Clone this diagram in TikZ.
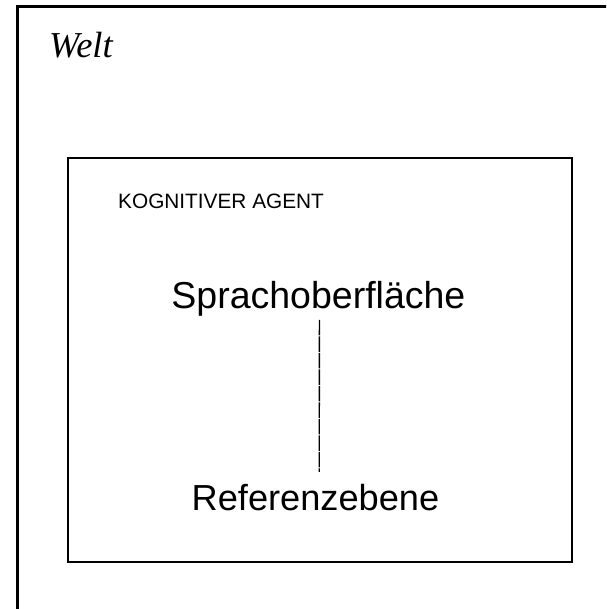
\documentclass[tikz,border=0pt]{standalone}
\usepackage{fontspec}
\setmainfont{Liberation Serif}
\setsansfont{Liberation Sans}
\begin{document}
\begin{tikzpicture}[
    x=1pt, y=-1pt,
    frame/.style={draw, line width=3pt},
    agentbox/.style={draw, line width=2pt},
    big/.style={inner sep=0pt, font=\sffamily\fontsize{37.5}{42}\selectfont},
    link/.style={line width=1.3pt, dash pattern=on 15.5pt off 1pt}
]
\useasboundingbox (0, 0) rectangle (606, 609);

% Outer box (world), runs off the page at right and bottom
\begin{scope}
\clip (0, 0) rectangle (606, 609);
\draw[frame] (17.5, 7) rectangle (640, 640);
\end{scope}
\node[anchor=base west, inner sep=0pt, font=\itshape\fontsize{36.5}{40}\selectfont] (welt) at (49, 57.5) {Welt};

% Inner box (agent)
\draw[agentbox] (68, 158) rectangle (572, 561.5);
\node[anchor=base west, inner sep=0pt, font=\sffamily\fontsize{20.8}{24}\selectfont] (agent) at (118, 209) {KOGNITIVER AGENT};

% Levels
\node[big, anchor=base] (sprache) at (318.4, 308) {Sprachoberfläche};
\node[big, anchor=base, font=\sffamily\fontsize{36.2}{40}\selectfont] (referenz) at (315.5, 510.7) {Referenzebene};
\draw[link] ([xshift=1pt]sprache.south) ++(0, 4) -- ([xshift=3.8pt, yshift=12.5pt]referenz.north);

\end{tikzpicture}
\end{document}
